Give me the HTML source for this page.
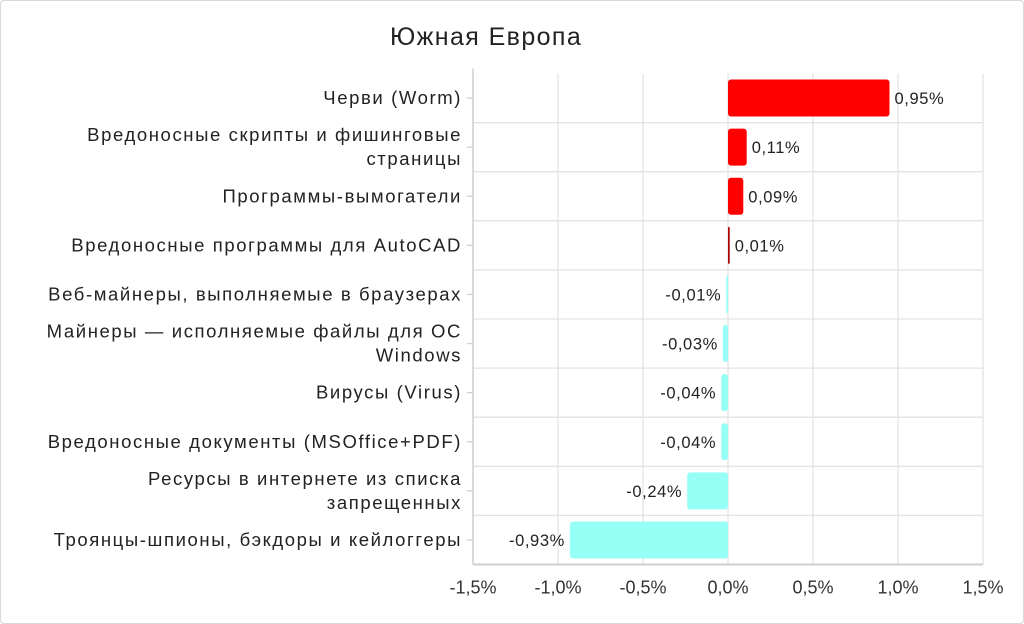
<!DOCTYPE html>
<html><head><meta charset="utf-8"><style>
html,body{margin:0;padding:0;background:#fff}
#frame{position:absolute;left:0;top:0;width:1022px;height:622px;border:1px solid #d9d9d9;border-radius:4px}
svg text{font-family:"Liberation Sans",sans-serif}
</style></head><body>
<div id="frame"></div>
<svg id="chart" width="1024" height="624" style="position:absolute;left:0;top:0">
<text x="390" y="45" font-size="25" letter-spacing="1.4" fill="#222">Южная Европа</text>
</svg>
<script>
const categories=[["Черви (Worm)"],["Вредоносные скрипты и фишинговые","страницы"],["Программы-вымогатели"],["Вредоносные программы для AutoCAD"],["Веб-майнеры, выполняемые в браузерах"],["Майнеры — исполняемые файлы для ОС","Windows"],["Вирусы (Virus)"],["Вредоносные документы (MSOffice+PDF)"],["Ресурсы в интернете из списка","запрещенных"],["Троянцы-шпионы, бэкдоры и кейлоггеры"]];
const values=[0.95,0.11,0.09,0.01,-0.01,-0.03,-0.04,-0.04,-0.24,-0.93];
const ticks=[-1.5,-1.0,-0.5,0.0,0.5,1.0,1.5];
const tickLabels=["-1,5%","-1,0%","-0,5%","0,0%","0,5%","1,0%","1,5%"];
const svg=document.getElementById('chart');const NS='http://www.w3.org/2000/svg';
const X0=473,X1=983,Y0=73.5,RH=49.1;
const xs=v=>X0+(v+1.5)/3*(X1-X0);
const yc=i=>Y0+RH*(i+0.5);
function mk(t,a){const e=document.createElementNS(NS,t);for(const k in a)e.setAttribute(k,a[k]);svg.appendChild(e);return e;}
const bottom=Y0+RH*categories.length;
ticks.forEach((t,i)=>{
 const g=mk('line',{x1:xs(t),x2:xs(t),y1:Y0,y2:bottom,stroke:'#e3e3e3','stroke-width':1.3});
 
 
 const tx=mk('text',{x:xs(t),y:bottom+29,'font-size':18,'text-anchor':'middle',fill:'#333'});
 tx.textContent=tickLabels[i];
 
 
});
for(let i=1;i<=categories.length;i++){
 const l=mk('line',{x1:X0,x2:X1,y1:Y0+RH*i,y2:Y0+RH*i,stroke:i==categories.length?'#cfcfcf':'#e3e3e3','stroke-width':i==categories.length?2:1.3});
 
 
}
const ax=mk('line',{x1:X0,x2:X0,y1:Y0-5,y2:bottom,stroke:'#d0d0d0','stroke-width':1.5});


values.forEach((v,i)=>{
 const c=yc(i),x0=xs(0),xv=xs(v);
 const w=Math.max(Math.abs(xv-x0),1.2);
 const col=v>0?(v<0.05?'#b00000':'#ff0000'):'#96fff6';
 const r=mk('rect',{x:v>=0?x0:x0-w,y:c-18.5,width:w,height:37,rx:Math.min(3,w/2),fill:col});
 
 
 const lab=(v<0?'-':'')+Math.abs(v).toFixed(2).replace('.',',')+'%';
 const t=mk('text',{x:v>=0?x0+w+5:x0-w-5,y:c+6,'font-size':16.5,'letter-spacing':0.6,'text-anchor':v>=0?'start':'end',fill:'#222'});
 t.textContent=lab;
 
 
 const tk=mk('line',{x1:X0-6,x2:X0,y1:c,y2:c,stroke:'#d0d0d0','stroke-width':1.3});
 
 
 const lines=categories[i];
 lines.forEach((s,j)=>{
  const ty=c+6+(j-(lines.length-1)/2)*24;
  const ct=mk('text',{x:462,y:ty,'font-size':18.5,'letter-spacing':1.6,'text-anchor':'end',fill:'#222'});
  ct.textContent=s;
  
  
 });
});
</script>
</body></html>
